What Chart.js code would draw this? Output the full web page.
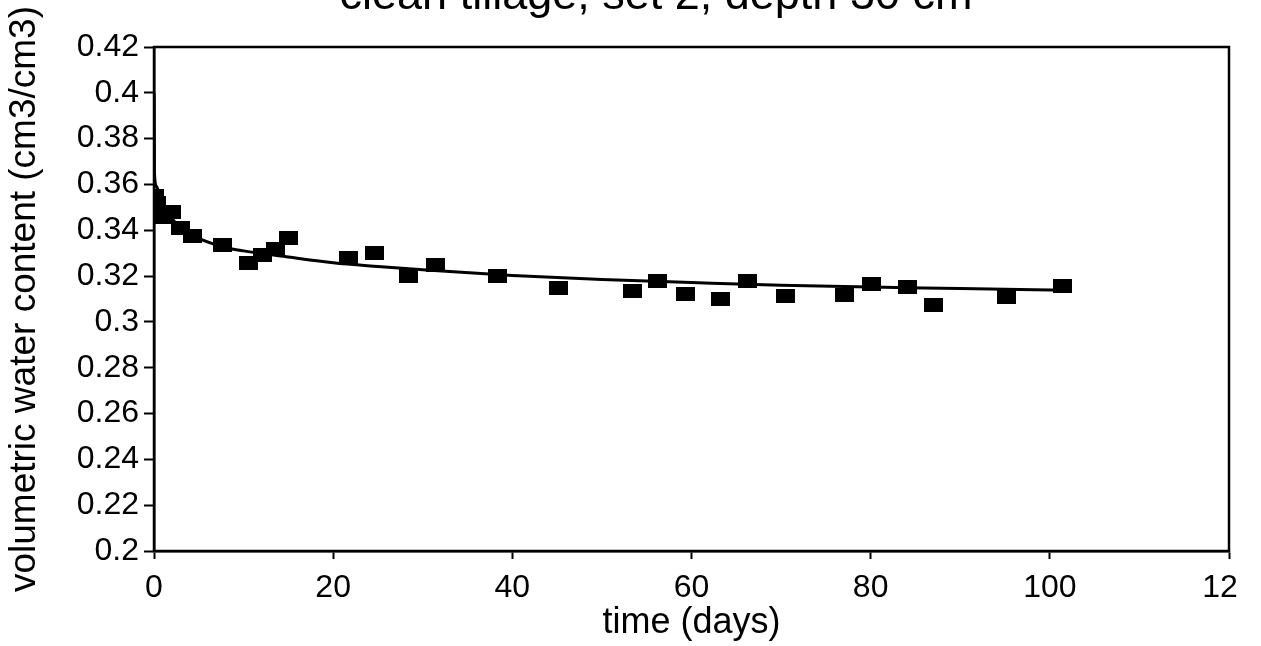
<!DOCTYPE html>
<html>
<head>
<meta charset="utf-8">
<script src="https://cdn.jsdelivr.net/npm/chart.js@4/dist/chart.umd.min.js"></script>
<style>
  html, body { margin: 0; padding: 0; background: #fff; overflow: hidden; }
  #moldura { position: relative; width: 1239px; height: 646px; overflow: hidden; background: #fff; }
  #grafico { position: absolute; left: 0; top: -30px; }
</style>
</head>
<body>
<div id="moldura">
  <canvas id="grafico" width="1312" height="676"></canvas>
</div>
<script>
// medições (dias, teor volumétrico de água)
var dias = [0, 0.3, 1.0, 2.0, 3.0, 4.3, 7.6, 10.6, 12.1, 13.6, 15.0, 21.7, 24.6, 28.4, 31.4, 38.3, 45.2, 53.4, 56.2, 59.3, 63.2, 66.3, 70.5, 77.1, 80.1, 84.1, 87.0, 95.2, 101.4];
var umidade = [0.355, 0.352, 0.346, 0.348, 0.341, 0.3375, 0.3335, 0.3255, 0.329, 0.332, 0.3368, 0.328, 0.330, 0.320, 0.325, 0.320, 0.3147, 0.3134, 0.318, 0.3122, 0.3099, 0.318, 0.3112, 0.3117, 0.3167, 0.3152, 0.3074, 0.3109, 0.3155];

// curva ajustada
var diasCurva = [0.01, 0.05, 0.3, 0.7, 1.5, 3, 5, 8, 10, 15, 20, 25, 30, 40, 50, 60, 70, 80, 90, 102];
var umidadeCurva = [0.40, 0.365, 0.359, 0.354, 0.348, 0.341, 0.3365, 0.3325, 0.331, 0.3283, 0.3258, 0.3242, 0.3228, 0.3203, 0.3185, 0.3172, 0.316, 0.3152, 0.3146, 0.3138];

var titulo = 'clean tillage, set 2, depth 30 cm';
var tituloX = 'time (days)';
var tituloY = 'volumetric water content (cm3/cm3)';

function pares(xs, ys) {
    return xs.map(function (x, i) { return { x: x, y: ys[i] }; });
}

// marcador retangular preto (um pouco mais largo que alto)
var marcador = document.createElement('canvas');
marcador.width = 19;
marcador.height = 14;
var mctx = marcador.getContext('2d');
mctx.fillStyle = '#000';
mctx.fillRect(0, 0, 19, 14);

// moldura completa em volta da área do gráfico
var caixa = {
    id: 'caixa',
    afterDraw: function (chart) {
        var a = chart.chartArea;
        var ctx = chart.ctx;
        ctx.save();
        ctx.strokeStyle = '#000';
        ctx.lineWidth = 2.5;
        ctx.strokeRect(a.left, a.top, a.right - a.left, a.bottom - a.top);
        ctx.restore();
    }
};

var fonte = 'Liberation Sans, Arial, Helvetica, sans-serif';

new Chart(document.getElementById('grafico').getContext('2d'), {
    type: 'scatter',
    data: {
        datasets: [
            {
                label: 'curva',
                data: pares(diasCurva, umidadeCurva),
                showLine: true,
                borderColor: '#000',
                borderWidth: 3,
                pointRadius: 0,
                cubicInterpolationMode: 'monotone',
                fill: false
            },
            {
                label: 'medido',
                data: pares(dias, umidade),
                pointStyle: marcador,
                pointRadius: 9,
                backgroundColor: '#000',
                borderColor: '#000'
            }
        ]
    },
    options: {
        responsive: false,
        animation: false,
        devicePixelRatio: 1,
        layout: {
            padding: 0
        },
        plugins: {
            legend: { display: false },
            tooltip: { enabled: false },
            title: {
                display: true,
                text: titulo,
                color: '#000',
                font: { family: fonte, size: 45, weight: 'normal', lineHeight: 1.2 },
                padding: { top: 0, bottom: 23 }
            }
        },
        scales: {
            x: {
                type: 'linear',
                min: 0,
                max: 120,
                ticks: {
                    stepSize: 20,
                    color: '#000',
                    padding: 10,
                    maxRotation: 0,
                    font: { family: fonte, size: 32 },
                    callback: function (v) { return String(v); }
                },
                grid: {
                    drawOnChartArea: false,
                    drawTicks: true,
                    tickLength: 8,
                    tickColor: '#000',
                    tickWidth: 2
                },
                border: { display: true, color: '#000', width: 2.5 },
                title: {
                    display: true,
                    text: tituloX,
                    color: '#000',
                    font: { family: fonte, size: 36, lineHeight: 1.2 },
                    padding: { top: 4, bottom: 1 }
                },
                afterFit: function (s) {
                    s.height = 95;
                    s.paddingLeft = 0;
                    s.paddingRight = 0;
                }
            },
            y: {
                type: 'linear',
                min: 0.2,
                max: 0.42,
                ticks: {
                    stepSize: 0.02,
                    color: '#000',
                    padding: 5,
                    font: { family: fonte, size: 32 },
                    callback: function (v) { return String(Math.round(v * 100) / 100); }
                },
                grid: {
                    drawOnChartArea: false,
                    drawTicks: true,
                    tickLength: 10,
                    tickColor: '#000',
                    tickWidth: 2
                },
                border: { display: true, color: '#000', width: 2.5 },
                title: {
                    display: true,
                    text: tituloY,
                    color: '#000',
                    font: { family: fonte, size: 37, lineHeight: 1.2 },
                    padding: { top: 3, bottom: 4 }
                },
                afterFit: function (s) {
                    s.width = 154;
                    s.paddingTop = 0;
                    s.paddingBottom = 0;
                }
            },
            // eixo vazio à direita, só reserva o espaço em branco
            direita: {
                type: 'linear',
                position: 'right',
                min: 0.2,
                max: 0.42,
                ticks: { display: false },
                grid: { display: false },
                border: { display: false },
                afterFit: function (s) {
                    s.width = 83;
                    s.paddingTop = 0;
                    s.paddingBottom = 0;
                }
            }
        }
    },
    plugins: [caixa]
});
</script>
</body>
</html>
